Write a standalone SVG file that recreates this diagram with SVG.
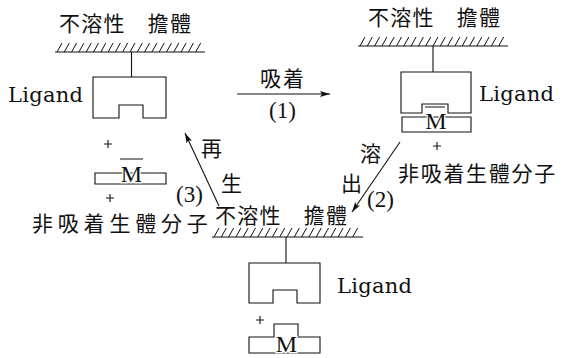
<svg xmlns="http://www.w3.org/2000/svg" xmlns:xlink="http://www.w3.org/1999/xlink" width="566" height="358" viewBox="0 0 566 358">
<style>
.ln{stroke:#111;stroke-width:1.1;fill:none}
.ht{stroke:#111;stroke-width:1;fill:none}
.cjk{font-family:"Noto Sans CJK JP","Noto Sans CJK SC",sans-serif;font-size:21px;fill:#111}
.lig{font-family:"DejaVu Serif","Liberation Serif",serif;font-size:21px;fill:#111}
.num{font-family:"Liberation Serif",serif;font-size:23px;fill:#111}
.m{font-family:"Liberation Serif",serif;font-size:24px;fill:#111;text-anchor:middle;stroke:#fff;stroke-width:2.5;paint-order:stroke}
</style>
<defs>
<path id="hatch" d="M0,9 l5,-9 m2.3,9 l5,-9 m2.3,9 l5,-9 m2.3,9 l5,-9 m2.3,9 l5,-9 m2.3,9 l5,-9 m2.3,9 l5,-9 m2.3,9 l5,-9 m2.3,9 l5,-9 m2.3,9 l5,-9 m2.3,9 l5,-9 m2.3,9 l5,-9 m2.3,9 l5,-9 m2.3,9 l5,-9 m2.3,9 l5,-9 m2.3,9 l5,-9 m2.3,9 l5,-9 m2.3,9 l5,-9 m2.3,9 l5,-9 m2.3,9 l5,-9" class="ht"/>
<marker id="ah" viewBox="0 0 10 6" refX="10" refY="3" markerWidth="10" markerHeight="6" markerUnits="userSpaceOnUse" orient="auto"><path d="M0,0 L10,3 L0,6 L2,3 z" fill="#111"/></marker>
</defs>

<g id="support-top-left">
<text class="cjk" x="59" y="31" letter-spacing="1.2">不溶性　擔體</text>
<use xlink:href="#hatch" x="57" y="43"/>
<line class="ln" x1="55" y1="52" x2="205" y2="52"/>
</g>
<g id="ligand-top-left">
<line class="ln" x1="131.5" y1="52" x2="131.5" y2="77"/>
<path class="ln" d="M93,77 H166 V118 H143 V105 H119 V118 H93 Z"/>
<text class="lig" x="8" y="102" textLength="75">Ligand</text>
</g>
<g id="molecule-free">
<path class="ln" d="M104,144 H112 M108,140 V148"/>
<path class="ln" d="M120,159 H143 M95,173 H166 V184 H95 Z"/>
<text class="m" x="131.5" y="182">M</text>
<path class="ln" d="M106,198 H114 M110,194 V202"/>
<text class="cjk" x="32" y="231" letter-spacing="4.8">非吸着生體分子</text>
</g>

<g id="support-top-right">
<text class="cjk" x="368" y="25" letter-spacing="1.2">不溶性　擔體</text>
<use xlink:href="#hatch" x="360" y="37"/>
<line class="ln" x1="358" y1="46" x2="508" y2="46"/>
</g>
<g id="ligand-top-right">
<line class="ln" x1="433" y1="46" x2="433" y2="72"/>
<path class="ln" d="M401,72 H471 V113 H448 V104 H422 V113 H401 Z"/>
<text class="lig" x="479" y="101" textLength="75">Ligand</text>
</g>
<g id="molecule-bound">
<path class="ln" d="M425,107 H445 M402,117 H471 V132 H402 Z"/>
<text class="m" x="436" y="129">M</text>
<path class="ln" d="M433,146 H441 M437,142 V150"/>
<text class="cjk" x="398" y="181" letter-spacing="1.7">非吸着生體分子</text>
</g>

<g id="support-bottom">
<text class="cjk" x="215" y="223" letter-spacing="1.2">不溶性　擔體</text>
<use xlink:href="#hatch" x="214" y="228"/>
<line class="ln" x1="212" y1="237" x2="363" y2="237"/>
</g>
<g id="ligand-bottom">
<line class="ln" x1="286" y1="237" x2="286" y2="263"/>
<path class="ln" d="M249,263 H320 V303 H297 V290 H273 V303 H249 Z"/>
<text class="lig" x="337" y="293" textLength="75">Ligand</text>
</g>
<g id="molecule-bottom">
<path class="ln" d="M256,320 H264 M260,316 V324"/>
<path class="ln" d="M249,337 H274 V324 H298 V337 H320 V353 H249 Z"/>
<text class="m" x="286.5" y="352">M</text>
</g>

<g id="connectors">
<line class="ln" x1="237" y1="94" x2="330" y2="94" marker-end="url(#ah)"/>
<text class="cjk" x="260" y="86" letter-spacing="2">吸着</text>
<text class="num" x="269" y="118">(1)</text>
<line class="ln" x1="400" y1="142" x2="352" y2="212" marker-end="url(#ah)"/>
<text class="cjk" x="360" y="161">溶</text>
<text class="cjk" x="341" y="191">出</text>
<text class="num" x="367" y="207">(2)</text>
<line class="ln" x1="219" y1="206" x2="185" y2="133" marker-end="url(#ah)"/>
<text class="cjk" x="201" y="156">再</text>
<text class="cjk" x="221" y="191">生</text>
<text class="num" x="176" y="202">(3)</text>
</g>
</svg>
